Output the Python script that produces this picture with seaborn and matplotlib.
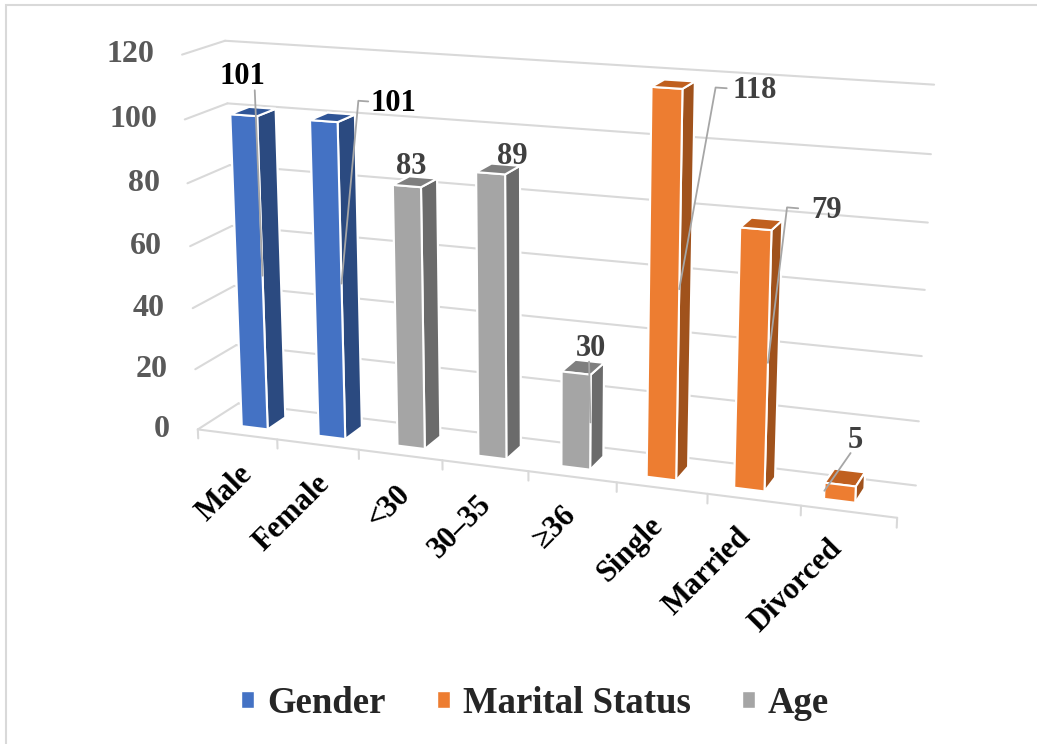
import numpy as np
import matplotlib
matplotlib.use("Agg")
import matplotlib.pyplot as plt
from matplotlib.patches import Patch, Rectangle
from matplotlib.transforms import offset_copy
from mpl_toolkits.mplot3d import proj3d
import seaborn as sns

# ---------------------------
# Data
# ---------------------------
categories = ["Male", "Female", "<30", "30–35", "≥36", "Single", "Married", "Divorced"]
counts = [101, 101, 83, 89, 30, 118, 79, 5]
groups = ["Gender", "Gender", "Age", "Age", "Age",
          "Marital Status", "Marital Status", "Marital Status"]
legend_order = ["Gender", "Marital Status", "Age"]
value_ticks = [0, 20, 40, 60, 80, 100, 120]

# data label placement (offsets in category / value units) and leader lines
lab_dx = [0.0, 0.85, 0.05, 0.25, 0.17, 0.95, 0.75, 0.15]
lab_dz = [12, 7, 6, 5.5, 8, 1, 7, 14]
lab_color = ["black", "black", "#404040", "#404040", "#404040", "#404040", "#404040", "#404040"]
has_leader = [True, True, False, False, True, True, True, True]
lead_top_dx = [0.15, 0.0, 0.0, 0.0, 0.15, 0.0, 0.0, 0.1]
lead_side = [1, 1, 1, 1, 1, 1, 1, -1]

# colours: front, top, side
colors = {
    "Gender": ("#4472C4", "#2F5597", "#2B4A80"),
    "Marital Status": ("#ED7D31", "#C0601F", "#A0521C"),
    "Age": ("#A5A5A5", "#7F7F7F", "#6B6B6B"),
}

# ---------------------------
# Style
# ---------------------------
sns.set_theme(style="white")
plt.rcParams["font.family"] = ["Liberation Serif", "DejaVu Serif"]
plt.rcParams["font.weight"] = "bold"

fig = plt.figure(figsize=(10.37, 7.44), dpi=100)
ax = fig.add_axes([0.032, 0.230, 0.97, 0.8], projection="3d", computed_zorder=False)
ax.set_proj_type("persp", focal_length=0.7)
ax.view_init(elev=15, azim=-70)
ax.set_box_aspect((8.07, 1.0, 4.33), zoom=1.391)

n = len(categories)
xmin, xmax = -0.6, n - 0.32
ymin, ymax = 0.0, 1.0
ax.set_xlim(xmin, xmax)
ax.set_ylim(ymin, ymax)
ax.set_zlim(0, 120)
ax.set_axis_off()

grid_kw = dict(color="#D9D9D9", linewidth=1.5, zorder=1, clip_on=False)
# back wall and side wall gridlines
for v in value_ticks:
    ax.plot([xmin, xmax], [ymax, ymax], [v, v], **grid_kw)
    ax.plot([xmin, xmin], [ymin, ymax], [v, v], **grid_kw)
# floor front edge with ticks between categories
ax.plot([xmin, xmax], [ymin, ymin], [0, 0], **grid_kw)
for b in np.linspace(xmin, xmax, n + 1):
    ax.plot([b, b], [ymin, ymin], [0, -3], **grid_kw)

# ---------------------------
# Bars
# ---------------------------
bw, bd = 0.34, 0.45
y0 = (ymax - bd) / 2
xpos = np.arange(n) - bw / 2
face_colors = []
for g in groups:
    front, top, side = colors[g]
    # face order: bottom, top, front, back, left, right
    face_colors += [front, top, front, front, side, side]

bars = ax.bar3d(xpos, np.full(n, y0), np.zeros(n), bw, bd, counts,
                color=face_colors, shade=False, edgecolor="white", linewidth=1.5, zorder=3)
bars.set_clip_on(False)

# leader lines
for i, v in enumerate(counts):
    if not has_leader[i]:
        continue
    lx, lz = i + lab_dx[i], v + lab_dz[i]
    end_x = i + lead_side[i] * bw / 2
    if lab_dx[i] > 0.3:
        xs = [lx - 0.3, lx - 0.42, end_x]
        zs = [lz, lz, v / 2]
    else:
        xs = [i + lead_top_dx[i], end_x]
        zs = [lz - 4, v / 2]
    ax.plot(xs, [y0] * len(xs), zs, color="#A6A6A6", linewidth=1.3, zorder=5, clip_on=False)

# ---------------------------
# Texts placed at projected 3D positions
# ---------------------------
fig.canvas.draw()


def put_text(x, y, z, s, dx=0, dy=0, **kw):
    px, py, _ = proj3d.proj_transform(x, y, z, ax.M)
    tr = offset_copy(ax.transData, fig=fig, x=dx, y=dy, units="points")
    return fig.text(px, py, s, transform=tr, fontweight="bold", **kw)


for v in value_ticks:
    put_text(xmin, ymin, v, str(v), dx=-20, ha="right", va="center",
             fontsize=23, color="#595959")

for i, v in enumerate(counts):
    put_text(i + lab_dx[i], y0, v + lab_dz[i], str(v), ha="center", va="center",
             fontsize=22, color=lab_color[i])

for i, c in enumerate(categories):
    put_text(i, ymin, 0, c, dx=3, dy=-25, rotation=45, rotation_mode="anchor",
             ha="right", va="center", fontsize=22, color="black")

# ---------------------------
# Legend and chart border
# ---------------------------
handles = [Patch(facecolor=colors[g][0], label=g) for g in legend_order]
fig.legend(handles=handles, loc="center", bbox_to_anchor=(0.516, 0.055), ncol=3,
           frameon=False, prop={"family": ["Liberation Serif"], "weight": "bold", "size": 26.5},
           handlelength=0.35, handleheight=0.35, handletextpad=0.35, columnspacing=1.4)

fig.add_artist(Rectangle((5.5 / 1037, -0.1), 1.2, 1.1 - 5.5 / 744, transform=fig.transFigure,
                         fill=False, edgecolor="#D9D9D9", linewidth=1.5))

fig.savefig("out.png", dpi=100)
